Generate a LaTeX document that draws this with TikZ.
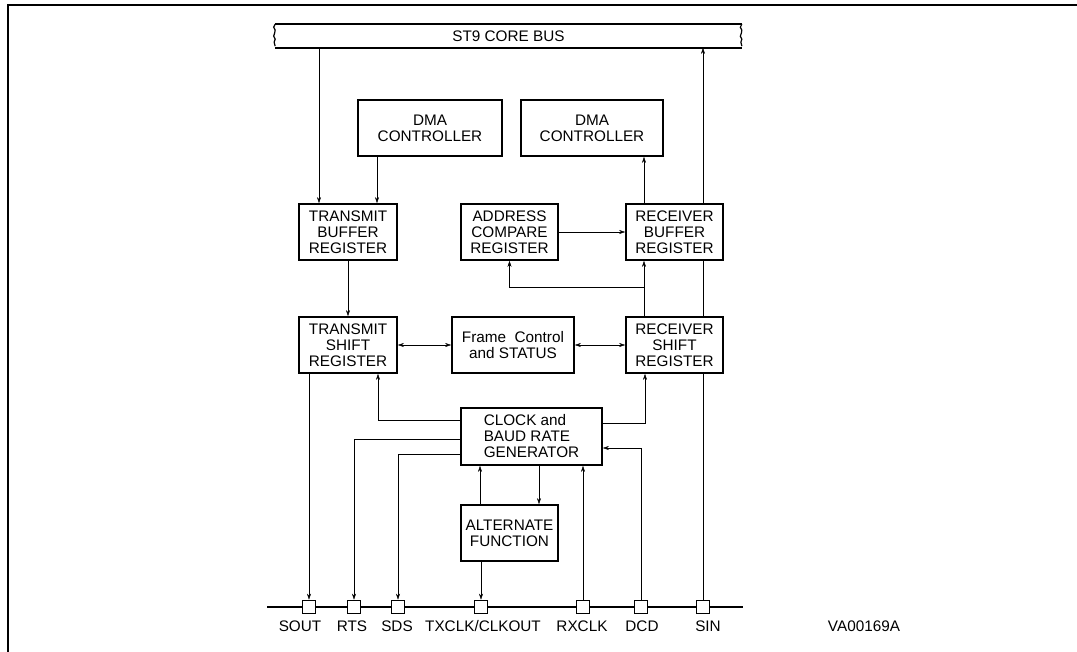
\documentclass[tikz,border=0pt]{standalone}
\usepackage{fontspec}
\setmainfont{Liberation Sans}
\usetikzlibrary{arrows.meta,backgrounds}
\begin{document}
\begin{tikzpicture}[x=1pt,y=-1pt,
  line width=1.7pt,
  every node/.style={font=\fontsize{15.3}{16}\selectfont},
  box/.style={draw, fill=white, line width=1.7pt, inner sep=0pt, align=center},
  pinbox/.style={draw, fill=white, minimum size=13pt, inner sep=0pt, line width=1.6pt},
  lbl/.style={inner sep=0pt},
  arr/.style={-{Stealth[length=6pt,width=4pt]}},
  arrs/.style={{Stealth[length=6pt,width=4pt]}-{Stealth[length=6pt,width=4pt]}}]
\useasboundingbox (0,0) rectangle (1077,652);
% outer frame
\draw[line width=2.2pt] (1077,5) -- (8,5) -- (8,652);

% bus
\node[inner sep=0pt, minimum width=465pt, minimum height=22pt] (bus) at (508.5,36) {ST9 CORE BUS};
\draw (bus.north west) -- (bus.north east);
\draw (bus.south west) -- (bus.south east);
\draw[line width=1.2pt] (bus.north west) -- ++(-1.5,3) -- ++(1.5,3) -- ++(-0.5,3) -- ++(-1,3) -- ++(1.5,3) -- ++(-1,3) -- ++(1,4);
\draw[line width=1.2pt] (bus.north east) -- ++(-1.5,3) -- ++(1.5,3) -- ++(-0.5,3) -- ++(-1,3) -- ++(1.5,3) -- ++(-1,3) -- ++(1,4);

% blocks
\node[box, minimum width=144pt, minimum height=56pt] (dmaL) at (430,128) {DMA\\CONTROLLER};
\node[box, minimum width=142pt, minimum height=56pt] (dmaR) at (592,128) {DMA\\CONTROLLER};
\node[box, minimum width=98pt, minimum height=56pt] (tbr) at (348,232) {TRANSMIT\\BUFFER\\REGISTER};
\node[box, minimum width=97pt, minimum height=56pt] (acr) at (509.5,232) {ADDRESS\\COMPARE\\REGISTER};
\node[box, minimum width=97pt, minimum height=56pt] (rbr) at (674.5,232) {RECEIVER\\BUFFER\\REGISTER};
\node[box, minimum width=98pt, minimum height=56pt] (tsr) at (348,345) {TRANSMIT\\SHIFT\\REGISTER};
\node[box, minimum width=122pt, minimum height=56pt] (fcs) at (513,345) {Frame\ \ Control\\and STATUS};
\node[box, minimum width=97pt, minimum height=56pt] (rsr) at (674.5,345) {RECEIVER\\SHIFT\\REGISTER};
\node[box, align=left, minimum width=141pt, minimum height=57pt] (clk) at (531.5,436.5) {CLOCK and\\BAUD RATE\\GENERATOR};
\node[box, minimum width=97pt, minimum height=56pt] (alt) at (509.5,533) {ALTERNATE\\FUNCTION};

% pin line and pins
\coordinate (lineL) at (267,607);
\coordinate (lineR) at (743,607);
\draw (lineL) -- (lineR);
\node[pinbox] (pSOUT) at (309,607) {};
\node[pinbox] (pRTS) at (354,607) {};
\node[pinbox] (pSDS) at (398,607) {};
\node[pinbox] (pTX) at (481,607) {};
\node[pinbox] (pRX) at (583,607) {};
\node[pinbox] (pDCD) at (641,607) {};
\node[pinbox] (pSIN) at (703,607) {};

\node[lbl] (lSOUT) at (300,626) {SOUT};
\node[lbl] (lRTS) at (352,626) {RTS};
\node[lbl] (lSDS) at (397,626) {SDS};
\node[lbl] (lTX) at (483,626) {TXCLK/CLKOUT};
\node[lbl] (lRX) at (582,626) {RXCLK};
\node[lbl] (lDCD) at (642,626) {DCD};
\node[lbl] (lSIN) at (708,626) {SIN};
\node[lbl] (ref) at (864,626) {VA00169A};

% reference x / y coordinates
\coordinate (xa) at (319,0);
\coordinate (xb) at (377,0);
\coordinate (xc) at (644,0);
\coordinate (xd) at (378,0);
\coordinate (xe) at (645,0);
\coordinate (xf) at (480,0);
\coordinate (xg) at (539,0);
\coordinate (br) at (644,287);
\coordinate (y1) at (0,420);
\coordinate (y2) at (0,423);
\coordinate (y3) at (0,439);
\coordinate (y4) at (0,454);
\coordinate (y5) at (0,448);

% connectors
\begin{pgfonlayer}{background}
\draw[arr] (pSIN.north) -- (bus.south -| pSIN);
\end{pgfonlayer}
\draw[arr] (bus.south -| xa) -- (tbr.north -| xa);
\draw[arr] (dmaL.south -| xb) -- (tbr.north -| xb);
\draw[arr] (rbr.north -| xc) -- (dmaR.south -| xc);
\draw[arr] (tbr.south) -- (tsr.north);
\draw[arr] (acr.east) -- (rbr.west);
\draw[arr] (rsr.north -| xc) -- (rbr.south -| xc);
\draw[arr] (br) -| (acr.south);
\draw[arrs] (tsr.east) -- (fcs.west);
\draw[arrs] (fcs.east) -- (rsr.west);
\draw[arr] (clk.west |- y1) -| (tsr.south -| xd);
\draw[arr] (clk.east |- y2) -| (rsr.south -| xe);
\draw[arr] (clk.west |- y3) -| (pRTS.north);
\draw[arr] (clk.west |- y4) -| (pSDS.north);
\draw[arr] (pDCD.north) |- (clk.east |- y5);
\draw[arr] (pRX.north) -- (clk.south -| pRX);
\draw[arr] (alt.north -| xf) -- (clk.south -| xf);
\draw[arr] (clk.south -| xg) -- (alt.north -| xg);
\draw[arr] (alt.south -| pTX) -- (pTX.north);
\draw[arr] (tsr.south -| pSOUT) -- (pSOUT.north);
\end{tikzpicture}
\end{document}
